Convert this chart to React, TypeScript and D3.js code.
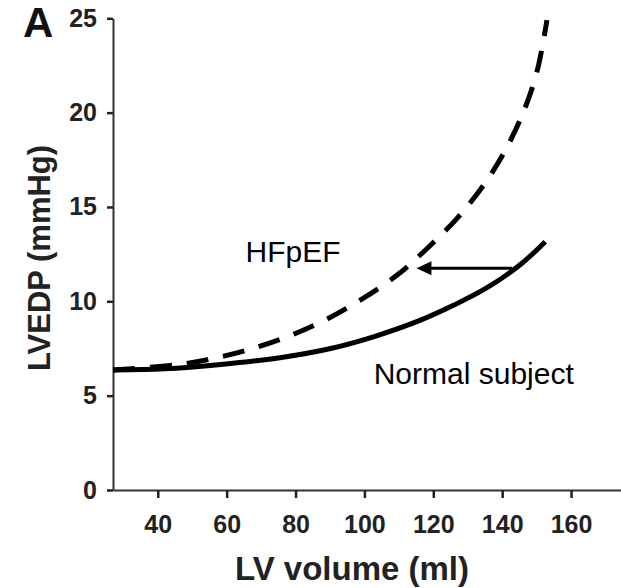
import React, { useEffect, useRef } from 'react';
import * as d3 from 'd3';

// LV end-diastolic pressure-volume relation, normal vs HFpEF

const normalVolume = [27, 42, 58.3, 75, 90.2, 104, 116.3, 126, 135.6, 145.3, 152.5];
const normalPressure = [6.36, 6.42, 6.65, 7.0, 7.5, 8.2, 9.0, 9.8, 10.72, 11.95, 13.16];

const hfpefVolume = [27, 44.7, 54.4, 66, 77.6, 88.2, 98.9, 109.5, 118.2, 126.9, 134.6, 140.9, 146.2, 150.1, 153];
const hfpefPressure = [6.36, 6.62, 6.9, 7.42, 8.12, 8.97, 10.07, 11.39, 12.8, 14.4, 16.16, 18.0, 20.05, 22.17, 24.9];

const xTicks = [40, 60, 80, 100, 120, 140, 160];
const yTicks = [0, 5, 10, 15, 20, 25];

// arrow from the normal curve to the HFpEF curve (volume, pressure)
const arrowFrom = [142.9, 11.75];
const arrowTo = [115.1, 11.75];

const labels = [
  { text: 'HFpEF', volume: 65.5, pressure: 12.07 },
  { text: 'Normal subject', volume: 102.7, pressure: 5.6 },
];

const FONT = '"Liberation Sans", Arial, sans-serif';

export default function App() {
  const ref = useRef<SVGSVGElement>(null);

  useEffect(() => {
    const svg = d3.select(ref.current);
    svg.selectAll('*').remove();

    const x = d3.scaleLinear().domain([27, 174.5]).range([113, 621]);
    const y = d3.scaleLinear().domain([0, 25]).range([490, 18.3]);

    // x axis
    const gx = svg.append('g').attr('transform', 'translate(0,490)')
      .call(d3.axisBottom(x).tickValues(xTicks).tickSize(8).tickSizeOuter(0));
    gx.select('.domain').attr('stroke', '#333').attr('stroke-width', 2);
    gx.selectAll('.tick line').attr('stroke', '#222').attr('stroke-width', 2.5);
    gx.selectAll('.tick text')
      .attr('dy', null).attr('y', 43)
      .attr('fill', '#222')
      .style('font', `bold 25px ${FONT}`);

    // y axis
    const gy = svg.append('g').attr('transform', 'translate(113,0)')
      .call(d3.axisLeft(y).tickValues(yTicks).tickSize(6).tickSizeOuter(0));
    gy.select('.domain').attr('stroke', '#333').attr('stroke-width', 2);
    gy.selectAll('.tick line').attr('stroke', '#222').attr('stroke-width', 2.5);
    gy.selectAll('.tick text')
      .attr('x', -16)
      .attr('fill', '#222')
      .style('font', `bold 25px ${FONT}`);

    const line = d3.line<number>()
      .x((d) => x(d))
      .curve(d3.curveCatmullRom.alpha(0.5));

    // normal subject
    svg.append('path')
      .attr('d', line.y((_, i) => y(normalPressure[i]))(normalVolume))
      .attr('fill', 'none')
      .attr('stroke', '#000')
      .attr('stroke-width', 5);

    // HFpEF dashed
    svg.append('path')
      .attr('d', line.y((_, i) => y(hfpefPressure[i]))(hfpefVolume))
      .attr('fill', 'none')
      .attr('stroke', '#000')
      .attr('stroke-width', 5)
      .attr('stroke-dasharray', '22,15');

    // arrow
    const ax0 = x(arrowFrom[0]), ay = y(arrowFrom[1]), ax1 = x(arrowTo[0]);
    svg.append('line')
      .attr('x1', ax0).attr('y1', ay)
      .attr('x2', ax1 + 12).attr('y2', ay)
      .attr('stroke', '#000').attr('stroke-width', 3);
    svg.append('path')
      .attr('d', `M${ax1},${ay} L${ax1 + 15},${ay - 7} L${ax1 + 15},${ay + 7} Z`)
      .attr('fill', '#000');

    // curve labels
    svg.selectAll('.curve-label')
      .data(labels)
      .join('text')
      .attr('class', 'curve-label')
      .attr('x', (d) => x(d.volume))
      .attr('y', (d) => y(d.pressure))
      .attr('fill', '#000')
      .style('font', `30px ${FONT}`)
      .text((d) => d.text);

    // axis titles
    svg.append('text')
      .attr('x', 352).attr('y', 580)
      .attr('text-anchor', 'middle')
      .attr('fill', '#222')
      .style('font', `bold 33px ${FONT}`)
      .text('LV volume (ml)');

    svg.append('text')
      .attr('transform', 'translate(50,258) rotate(-90)')
      .attr('text-anchor', 'middle')
      .attr('fill', '#222')
      .style('font', `bold 31px ${FONT}`)
      .text('LVEDP (mmHg)');

    // panel letter
    svg.append('text')
      .attr('x', 23).attr('y', 37)
      .attr('fill', '#111')
      .style('font', `bold 42px ${FONT}`)
      .text('A');
  }, []);

  return (
    <svg ref={ref} width={621} height={588}
      style={{ position: 'absolute', left: 0, top: 0, background: '#fff' }} />
  );
}
